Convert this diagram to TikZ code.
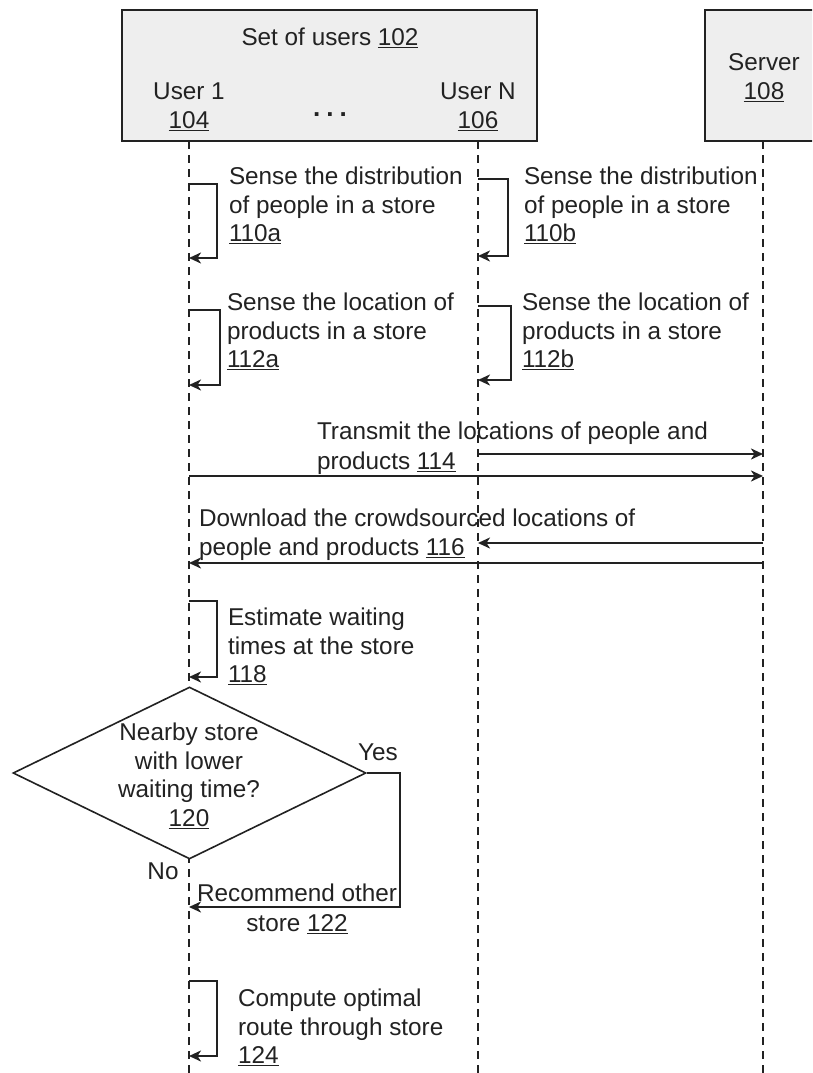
\documentclass[tikz,border=0pt]{standalone}
\usepackage{fontspec}
\setmainfont{Liberation Sans}
\usetikzlibrary{arrows.meta,shapes.geometric}
\definecolor{ink}{HTML}{222222}
\definecolor{boxfill}{HTML}{EEEEEE}
\newcommand\selfcall[5]{%
  \coordinate (#1s) at (#2,#3);
  \coordinate (#1e) at (#2,#5);
  \draw[msg] (#1s) -- ++(#4,0) |- (#1e);
}
\begin{document}
\begin{tikzpicture}[x=1pt,y=-1pt,
  txt/.style={inner sep=0pt, outer sep=0pt, text=ink, font=\fontsize{24.3}{28.5}\selectfont},
  ltxt/.style={txt, align=left, anchor=north west},
  ctxt/.style={txt, align=center, anchor=north},
  lifebox/.style={draw=ink, fill=boxfill, line width=2.2pt, inner sep=0pt, outer sep=0pt, anchor=north west},
  life/.style={draw=ink, line width=2.2pt, dash pattern=on 8pt off 6pt},
  msg/.style={draw=ink, line width=2.3pt, -{Stealth[length=12pt,width=11pt,inset=3.5pt]}},
  ]
\clip (0,0) rectangle (812,1073);
\fill[white] (0,0) rectangle (812,1073);

% boxes
\node[lifebox, minimum width=415pt, minimum height=131pt] (users) at (122,10) {};
\node[lifebox, minimum width=140pt, minimum height=131pt] (server) at (705,10) {};

\node[ctxt] (title) at (330,28) {Set of users \underline{102}};
\node[ctxt] (user1) at (189,83) {User 1\\\underline{104}};
\node[ctxt] (userN) at (478,83) {User N\\\underline{106}};
\node[txt, anchor=base, font=\fontsize{26}{28}\selectfont\bfseries] (dots) at (330,116) {.\hspace{6pt}.\hspace{6pt}.};
\node[ctxt] (servert) at (764,54) {Server\\\underline{108}};

% lifelines
\coordinate (u1) at (189,141);
\coordinate (un) at (478,141);
\coordinate (sv) at (763,141);
\coordinate (u1b) at (189,1075);
\coordinate (unb) at (478,1075);
\coordinate (svb) at (763,1075);
\draw[life] (u1) -- (u1b);
\draw[life] (un) -- (unb);
\draw[life] (sv) -- (svb);

% self calls
\selfcall{a110}{189}{184}{28}{258}
\node[ltxt] (t110a) at (229,167) {Sense the distribution\\of people in a store\\\underline{110a}};
\selfcall{b110}{478}{179}{30}{256}
\node[ltxt] (t110b) at (524,167) {Sense the distribution\\of people in a store\\\underline{110b}};
\selfcall{a112}{189}{310}{31}{385}
\node[ltxt] (t112a) at (227,293) {Sense the location of\\products in a store\\\underline{112a}};
\selfcall{b112}{478}{306}{33}{380}
\node[ltxt] (t112b) at (522,293) {Sense the location of\\products in a store\\\underline{112b}};

% transmit 114
\coordinate (m1s) at (478,454);
\coordinate (m1e) at (763,454);
\coordinate (m2s) at (189,476);
\coordinate (m2e) at (763,476);
\draw[msg] (m1s) -- (m1e);
\draw[msg] (m2s) -- (m2e);
\node[ltxt] (t114) at (317,422) {Transmit the locations of people and\\[1.5pt]products \underline{114}};

% download 116
\coordinate (d1s) at (763,543);
\coordinate (d1e) at (478,543);
\coordinate (d2s) at (763,563);
\coordinate (d2e) at (189,563);
\draw[msg] (d1s) -- (d1e);
\draw[msg] (d2s) -- (d2e);
\node[ltxt] (t116) at (199,509) {Download the crowdsourced locations of\\people and products \underline{116}};

% 118
\selfcall{a118}{189}{601}{28}{677}
\node[ltxt] (t118) at (228,608) {Estimate waiting\\times at the store\\\underline{118}};

% decision 120
\node[draw=ink, fill=white, line width=1.6pt, shape=diamond, minimum width=353pt, minimum height=172pt, inner sep=0pt] (dec) at (189.5,773) {};
\node[ctxt] (t120) at (189,723) {Nearby store\\with lower\\waiting time?\\\underline{120}};
\node[txt] (yes) at (378,752) {Yes};
\node[txt] (no) at (163,871) {No};
\coordinate (y1) at (400,773);
\coordinate (y2) at (400,907);
\coordinate (rec) at (189,907);
\draw[msg] (dec.east) -- (y1) -- (y2) -- (rec);
\node[ctxt] (t122) at (297,884) {Recommend other\\[1.5pt]store \underline{122}};

% 124
\selfcall{a124}{189}{981}{28}{1056}
\node[ltxt] (t124) at (238,989) {Compute optimal\\route through store\\\underline{124}};
\end{tikzpicture}
\end{document}
